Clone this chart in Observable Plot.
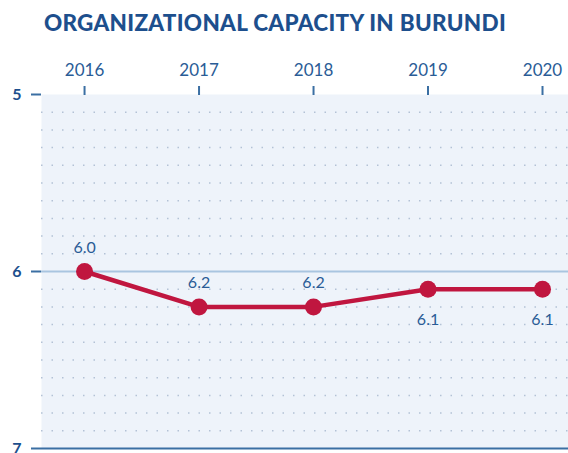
<!DOCTYPE html>
<html>
<head>
<meta charset="utf-8">
<script src="https://cdn.jsdelivr.net/npm/d3@7"></script>
<script src="https://cdn.jsdelivr.net/npm/@observablehq/plot@0.6"></script>
<style>
  html, body { margin: 0; padding: 0; background: #ffffff; }
  #title {
    width: 568px; height: 44px; line-height: 46px;
    box-sizing: border-box; padding-right: 18px;
    text-align: center; font-family: "Lato Black", Lato, "Open Sans", sans-serif;
    font-weight: 900; font-size: 22.5px; color: #1d4f8d; letter-spacing: 0.3px;
  }
</style>
</head>
<body>
<div id="title">ORGANIZATIONAL CAPACITY IN BURUNDI</div>
<div id="chart"></div>
<script>
const years = [2016, 2017, 2018, 2019, 2020];
const values = [6.0, 6.2, 6.2, 6.1, 6.1];
const labels = ["6.0", "6.2", "6.2", "6.1", "6.1"];
const yTicks = [5, 6, 7];

const data = years.map((y, i) => ({year: y, value: values[i], label: labels[i], i}));
const gridLevels = d3.range(51, 70).filter(v => v !== 60).map(v => v / 10);

const red = "#c0163f";
const blue = "#3b6fa3";
const textBlue = "#2a5c96";

const chart = Plot.plot({
  width: 568,
  height: 409,
  marginLeft: 41,
  marginRight: 0,
  marginTop: 50,
  marginBottom: 5,
  style: {fontFamily: "Lato, 'Open Sans', sans-serif", background: "transparent", overflow: "visible", color: blue},
  x: {domain: [2015.624, 2020.227]},
  y: {domain: [5, 7], reverse: true},
  marks: [
    Plot.frame({fill: "#eef3fa", stroke: null}),
    Plot.gridY(gridLevels, {stroke: "#b3c2d5", strokeOpacity: 1, strokeWidth: 1.5, strokeDasharray: "1.5 9"}),
    Plot.ruleY([6], {stroke: "#a9c5e0", strokeWidth: 2}),
    Plot.ruleY([7], {stroke: blue, strokeWidth: 2}),
    Plot.axisX({anchor: "top", ticks: years, tickFormat: "d", tickSize: 9, tickPadding: 10, line: true,
      stroke: blue, strokeWidth: 2, fill: textBlue, fontSize: 17, label: null}),
    Plot.axisY({ticks: yTicks, tickFormat: "d", tickSize: 10, tickPadding: 10, line: true,
      stroke: blue, strokeWidth: 2, fill: "#1d4f8d", fontSize: 16, fontWeight: "bold", label: null}),
    Plot.line(data, {x: "year", y: "value", stroke: red, strokeWidth: 4.5, strokeLinejoin: "round"}),
    Plot.dot(data, {x: "year", y: "value", r: 8.5, fill: red, stroke: null}),
    Plot.text(data.filter(d => d.i < 3), {x: "year", y: "value", text: "label", dy: -24, fill: textBlue, fontSize: 16}),
    Plot.text(data.filter(d => d.i >= 3), {x: "year", y: "value", text: "label", dy: 31, fill: textBlue, fontSize: 16})
  ]
});
document.getElementById("chart").appendChild(chart);
</script>
</body>
</html>
